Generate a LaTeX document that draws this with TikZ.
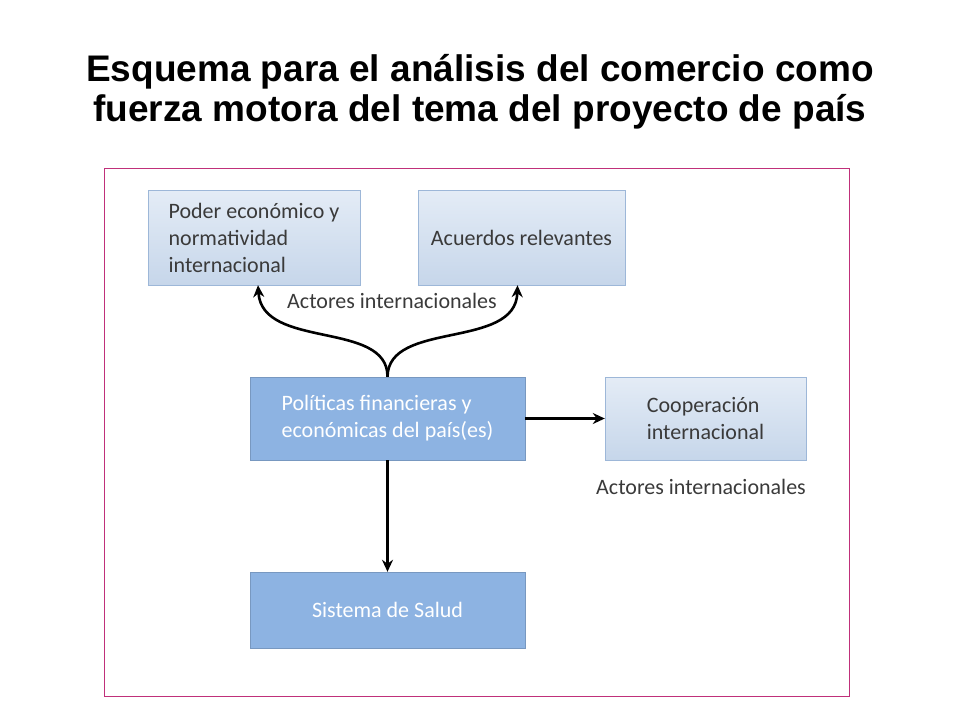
\documentclass[tikz,border=0pt]{standalone}
\usepackage{fontspec}
\setmainfont{Carlito}
\newfontfamily\titlefont{Liberation Sans}
\usetikzlibrary{arrows.meta}
\definecolor{lightbox}{HTML}{C6D6EA}
\definecolor{lighttop}{HTML}{E4ECF6}
\definecolor{lightedge}{HTML}{9DB7D8}
\definecolor{midbox}{HTML}{8DB3E2}
\definecolor{frameline}{HTML}{C0307A}
\definecolor{boxtext}{HTML}{3A3A3A}
\tikzset{
  lightnode/.style={draw=lightedge, top color=lighttop, bottom color=lightbox,
    text=boxtext, align=left, font=\fontsize{22}{27}\selectfont},
  midnode/.style={draw=midbox!85!black, fill=midbox, text=white, align=left,
    font=\fontsize{22}{27}\selectfont},
  flow/.style={-{Stealth[length=12pt,width=11pt]}, line width=2.6pt, black},
  actors/.style={text=boxtext, font=\fontsize{22}{27}\selectfont}
}
\begin{document}
\begin{tikzpicture}[x=1pt, y=-1pt]
\useasboundingbox (0,0) rectangle (960,720);
% title
\node[font=\titlefont\bfseries\fontsize{37}{40}\selectfont, align=center] (title) at (480,92)
  {Esquema para el análisis del comercio como\\fuerza motora del tema del proyecto de país};
% frame
\draw[frameline, line width=0.8pt] (104,168) rectangle (849,696);
% boxes
\node[lightnode, minimum width=212pt, minimum height=95pt] (poder) at (254,237.5)
  {Poder económico y\\normatividad\\internacional};
\node[lightnode, minimum width=207pt, minimum height=95pt] (acuerdos) at (521.5,237.5)
  {Acuerdos relevantes};
\node[midnode, minimum width=275pt, minimum height=83pt] (politicas) at (387.5,418.5)
  {Políticas financieras y\\económicas del país(es)};
\node[lightnode, minimum width=201pt, minimum height=83pt] (coop) at (705.5,418.5)
  {Cooperación\\internacional};
\node[midnode, minimum width=275pt, minimum height=76pt] (salud) at (387.5,610)
  {Sistema de Salud};
% labels
\node[actors] (actint) at (392,301) {Actores internacionales};
\node[actors] (actcoop) at (701,487) {Actores internacionales};
% connectors
\draw[flow] (politicas.north) .. controls (388,320) and (262,350) .. ([xshift=4pt]poder.south);
\draw[flow] (politicas.north) .. controls (388,320) and (516,350) .. ([xshift=-4pt]acuerdos.south);
\draw[flow] (politicas.east) -- (coop.west);
\draw[flow] (politicas.south) -- (salud.north);
\end{tikzpicture}
\end{document}
